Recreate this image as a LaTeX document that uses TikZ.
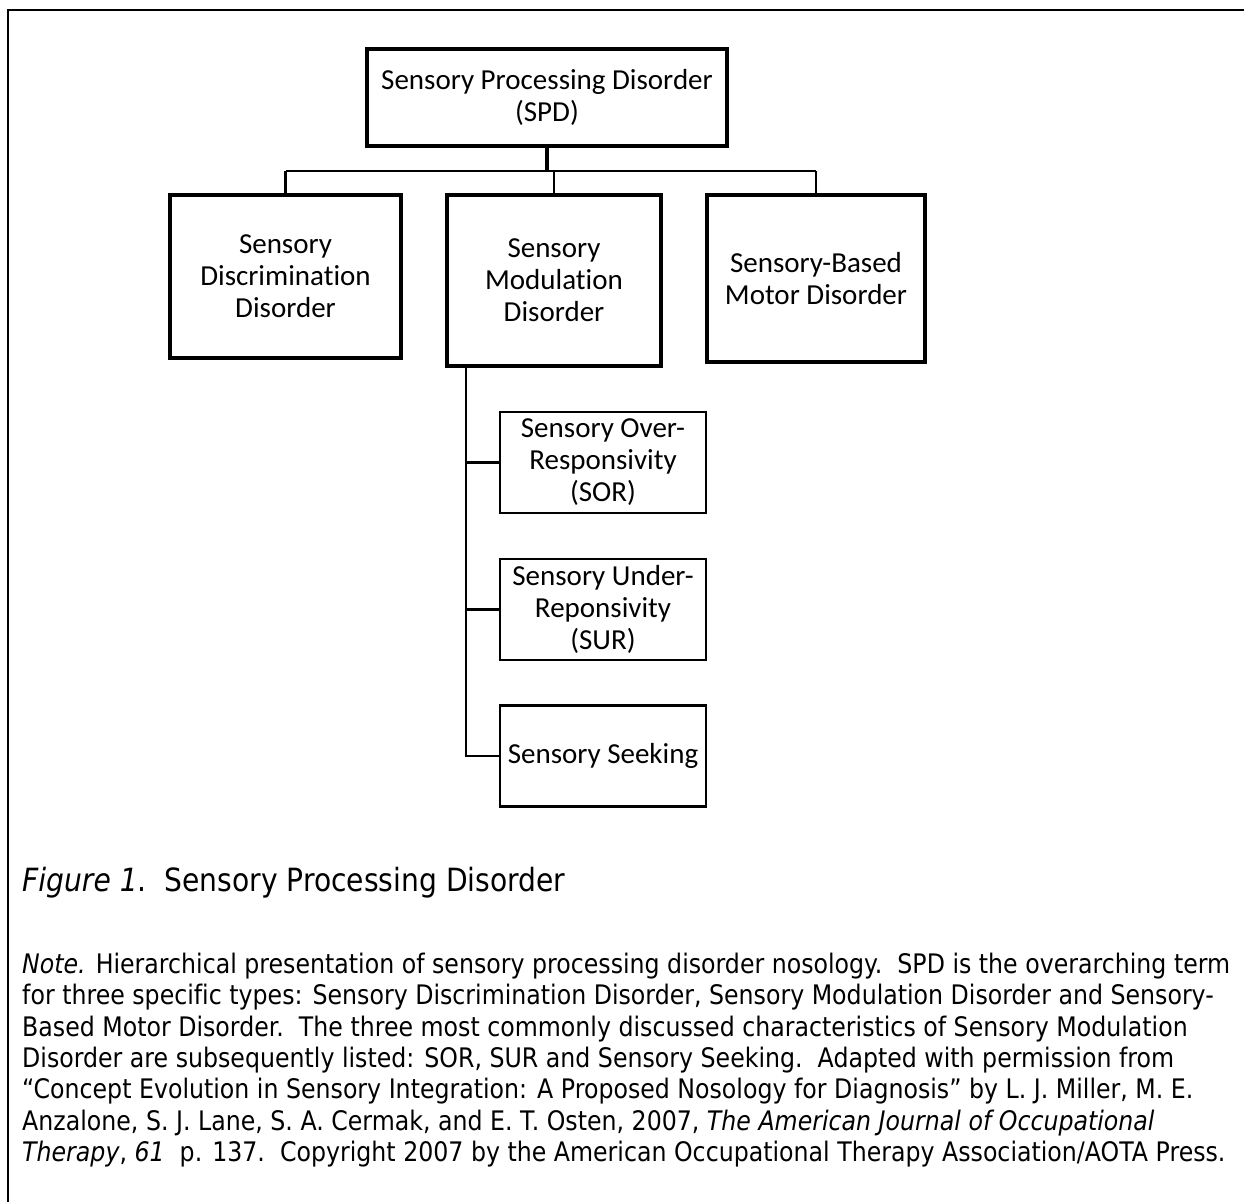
\documentclass[tikz,border=0pt]{standalone}
\usepackage{fontspec}
\setmainfont{DejaVu Sans}[FakeStretch=0.88, Ligatures=CommonOff]
\newfontfamily\boxfont{Carlito}[Ligatures=CommonOff]
\usetikzlibrary{positioning}

\tikzset{
  topbox/.style={draw, line width=3.5pt, align=center, inner sep=0pt,
    font=\boxfont\fontsize{29}{32}\selectfont},
  subbox/.style={draw, line width=2.2pt, align=center, inner sep=0pt,
    minimum width=206pt, minimum height=101pt,
    font=\boxfont\fontsize{29}{32}\selectfont},
  link/.style={line width=2.2pt},
  notetext/.style={inner sep=0pt, font=\fontsize{26.9}{31.3}\selectfont}
}

\begin{document}
\begin{tikzpicture}[x=1pt,y=-1pt]
    \useasboundingbox (0,0) rectangle (1244,1202);
    % Frame
    \draw[line width=2.5pt] (8,1202) -- (8,10) -- (1244,10);
    % Top level
    \node[topbox, minimum width=360pt, minimum height=97pt] (spd) at (547,97.5) {Sensory Processing Disorder\\(SPD)};
    \node[topbox, minimum width=231pt, minimum height=163pt] (discr) at (285.5,276.5) {Sensory\\Discrimination\\Disorder};
    \node[topbox, minimum width=214pt, minimum height=171pt] (modul) at (554,280.5) {Sensory\\Modulation\\Disorder};
    \node[topbox, minimum width=218pt, minimum height=167pt] (motor) at (816,278.5) {Sensory-Based\\Motor Disorder};
    % Modulation subtypes
    \node[subbox] (sor) at (603,462.5) {Sensory Over-\\Responsivity\\(SOR)};
    \node[subbox] (sur) at (603,609.5) {Sensory Under-\\Reponsivity\\(SUR)};
    \node[subbox] (seek) at (603,756) {Sensory Seeking};
    % Connections
    \coordinate (bar) at (547,171);
    \draw[line width=3.5pt] (spd.south) -- (bar);
    \draw[link] (discr.north |- bar) -- (motor.north |- bar);
    \draw[link] (discr.north |- bar) -- (discr.north);
    \draw[link] (modul.north |- bar) -- (modul.north);
    \draw[link] (motor.north |- bar) -- (motor.north);
    \coordinate (trunk) at ([xshift=21pt]modul.south west);
    \draw[link] (trunk) |- (seek.west);
    \draw[link] (trunk |- sor.west) -- (sor.west);
    \draw[link] (trunk |- sur.west) -- (sur.west);
    % Caption and note
    \node[notetext, anchor=base west, font=\fontsize{32}{36}\selectfont] (caption) at (22,891) {\textit{Figure 1}.\ \ Sensory Processing Disorder};
    \node[notetext, anchor=north west, align=left] (note) at (22,953) {\textit{Note.} Hierarchical presentation of sensory processing disorder nosology.\ \ SPD is the overarching term\\
for three specific types: Sensory Discrimination Disorder, Sensory Modulation Disorder and Sensory-\\
Based Motor Disorder.\ \ The three most commonly discussed characteristics of Sensory Modulation\\
Disorder are subsequently listed: SOR, SUR and Sensory Seeking.\ \ Adapted with permission from\\
“Concept Evolution in Sensory Integration: A Proposed Nosology for Diagnosis” by L. J. Miller, M. E.\\
Anzalone, S. J. Lane, S. A. Cermak, and E. T. Osten, 2007, \textit{The American Journal of Occupational}\\
\textit{Therapy}, \textit{61}\ \ p. 137.\ \ Copyright 2007 by the American Occupational Therapy Association/AOTA Press.};
\end{tikzpicture}
\end{document}
